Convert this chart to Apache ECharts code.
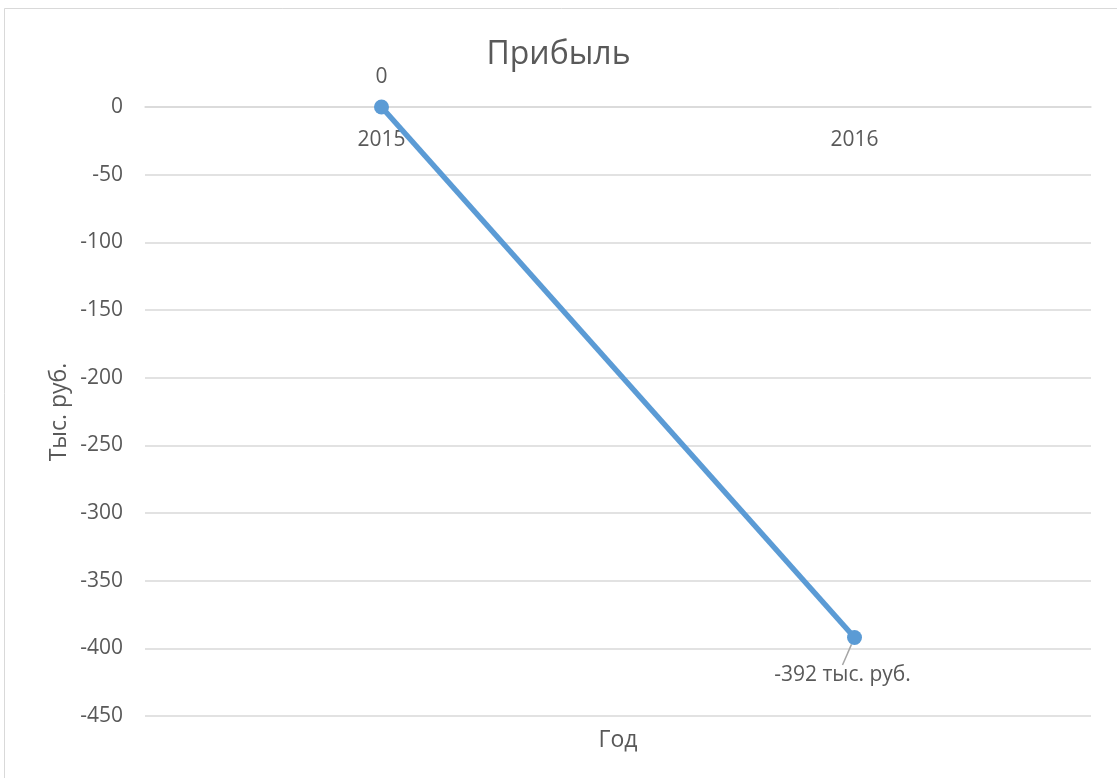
<!DOCTYPE html>
<html>
<head>
<meta charset="utf-8">
<script src="https://cdn.jsdelivr.net/npm/echarts@6/dist/echarts.min.js"></script>
<style>
html,body{margin:0;padding:0;background:#fff;}
#chart{width:1117px;height:778px;}
</style>
</head>
<body>
<div id="chart"></div>
<script>
const titleText = 'Прибыль';
const categories = ['2015', '2016'];
const profitValues = [0, -392];
const dataLabels = ['0', '-392 тыс. руб.'];
const yTicks = { min: -450, max: 0, interval: 50 };
const xAxisTitle = 'Год';
const yAxisTitle = 'Тыс. руб.';

const FONT = '"Open Sans", "Noto Sans", sans-serif';
const TXT = '#595959';

const chart = echarts.init(document.getElementById('chart'), null, {renderer: 'canvas'});
chart.setOption({
  backgroundColor: '#fff',
  animation: false,
  title: {
    text: titleText,
    left: 'center',
    top: 34,
    textStyle: {fontFamily: FONT, fontSize: 32, fontWeight: 'normal', color: TXT}
  },
  grid: {left: 145, right: 26, top: 107, bottom: 62, containLabel: false},
  graphic: [
    {type: 'rect', silent: true, z: -1, shape: {x: 4.5, y: 8.5, width: 1300, height: 1000},
     style: {fill: 'none', stroke: '#d9d9d9', lineWidth: 1}},
    {type: 'text', x: 618, y: 740, silent: true,
     style: {text: xAxisTitle, fontFamily: FONT, fontSize: 23, fill: TXT, align: 'center', verticalAlign: 'middle'}},
    {type: 'text', x: 59, y: 412, rotation: Math.PI / 2, silent: true,
     style: {text: yAxisTitle, fontFamily: FONT, fontSize: 23, fill: TXT, align: 'center', verticalAlign: 'middle'}}
  ],
  xAxis: {
    type: 'category',
    data: categories,
    position: 'top',
    boundaryGap: true,
    axisLine: {show: true, onZero: false, lineStyle: {color: '#d9d9d9', width: 1.5}},
    axisTick: {show: false},
    axisLabel: {inside: true, fontFamily: FONT, fontSize: 21, color: TXT, margin: 23}
  },
  yAxis: {
    type: 'value',
    min: yTicks.min, max: yTicks.max, interval: yTicks.interval,
    axisLine: {show: false},
    axisTick: {show: false},
    axisLabel: {fontFamily: FONT, fontSize: 21, color: TXT, margin: 22},
    splitLine: {lineStyle: {color: '#d9d9d9', width: 1.5}}
  },
  series: [{
    type: 'line',
    data: profitValues.map((v, i) => ({
      value: v,
      label: i === 0 ? {position: 'top', distance: 12} : {position: 'bottom', distance: 18},
      labelLine: {show: i !== 0}
    })),
    symbol: 'circle',
    symbolSize: 15,
    itemStyle: {color: '#5b9bd5'},
    lineStyle: {color: '#5b9bd5', width: 5.5},
    label: {
      show: true,
      fontFamily: FONT, fontSize: 21, color: TXT,
      formatter: p => dataLabels[p.dataIndex]
    },
    labelLayout: p => (p.dataIndex === 1 ? {dx: -12, dy: 2} : {}),
    labelLine: {lineStyle: {color: '#a6a6a6', width: 1.5}}
  }]
});
</script>
</body>
</html>
